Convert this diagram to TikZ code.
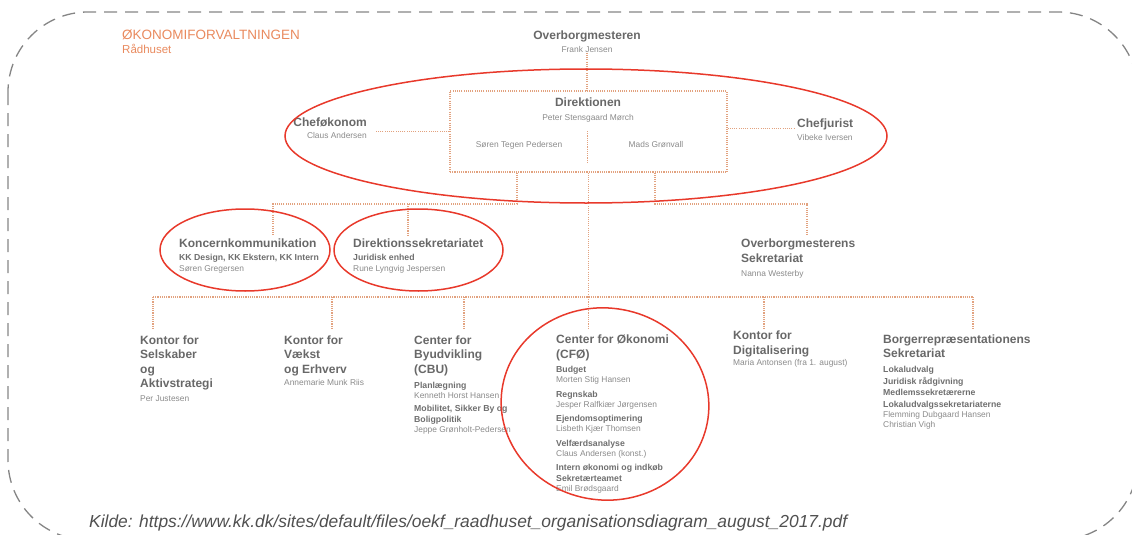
\documentclass[tikz,border=0pt]{standalone}
\usepackage{fontspec}
\setmainfont{Liberation Sans}
\usetikzlibrary{positioning}
\definecolor{Ttl}{HTML}{686868}
\definecolor{Sub}{HTML}{6E6E6E}
\definecolor{Pers}{HTML}{8A8A8A}
\definecolor{Brand}{HTML}{E98A5E}
\definecolor{Conn}{HTML}{E2A27F}
\definecolor{Ring}{HTML}{E8392B}
\definecolor{Frame}{HTML}{858585}
\definecolor{Src}{HTML}{505050}
\newcommand{\unitfont}{\fontsize{8}{0}\selectfont\lineskiplimit=-1000pt\relax}
\newcommand{\orgtitle}{\fontsize{12}{0}\selectfont\bfseries\color{Ttl}}
\newcommand{\orgsub}{\fontsize{8.7}{0}\selectfont\bfseries\color{Sub}}
\newcommand{\orgname}{\fontsize{8.4}{0}\selectfont\mdseries\color{Pers}}

\begin{document}
\begin{tikzpicture}[
  x=1pt, y=-1pt,
  unit/.style={align=left, anchor=north west, inner sep=0pt, font=\unitfont},
  unitc/.style={unit, align=center, anchor=north},
  unitr/.style={unit, align=right, anchor=north east},
  pers/.style={inner sep=0pt, anchor=base, font=\orgname},
  conn/.style={draw=Conn, line width=1.1pt, dash pattern=on 1.1pt off 1.1pt},
  dirbox/.style={conn, minimum width=277pt, minimum height=81pt, inner sep=0pt},
  ring/.style={draw=Ring, line width=1.5pt},
  frame/.style={draw=Frame, line width=1.3pt, dash pattern=on 13pt off 8pt, rounded corners=80pt},
]
\useasboundingbox (0,0) rectangle (1132,535);
\begin{scope}
  \clip (0,0) rectangle (1132,535);
  \draw[frame] (8,12) rectangle (1138,540);
\end{scope}

% heading
\node[anchor=base west, inner sep=0pt, text=Brand, font=\fontsize{13.5}{0}\selectfont] (dept) at (122,39.3) {ØKONOMIFORVALTNINGEN};
\node[anchor=base west, inner sep=0pt, text=Brand, font=\fontsize{11.5}{0}\selectfont] (house) at (122,53.3) {Rådhuset};

% top level
\node[unitc] (ob) at (587,30.3) {\orgtitle Overborgmesteren\\[13.3pt]\orgname Frank Jensen};
\node[dirbox] (dir) at (588.5,131.5) {};
\node[unitc] (dt) at (588,98) {\orgtitle Direktionen\\[13.3pt]\orgname Peter Stensgaard Mørch};
\node[pers] (sp) at (519,147.7) {Søren Tegen Pedersen};
\node[pers] (mg) at (656,147.7) {Mads Grønvall};
\coordinate (dv1) at (587.5,131);
\coordinate (dv2) at (587.5,163);
\node[unitr] (ce) at (367,118) {\orgtitle Cheføkonom\\[11.6pt]\orgname Claus Andersen};
\node[unit] (cj) at (797,119) {\orgtitle Chefjurist\\[12.3pt]\orgname Vibeke Iversen};

% staff units
\node[unit] (kon) at (179,239) {\orgtitle Koncernkommunikation\\[12.3pt]\orgsub KK Design, KK Ekstern, KK Intern\\[11.7pt]\orgname Søren Gregersen};
\node[unit] (dsek) at (353,239) {\orgtitle Direktionssekretariatet\\[12.3pt]\orgsub Juridisk enhed\\[11.7pt]\orgname Rune Lyngvig Jespersen};
\node[unit] (obsek) at (741,239) {\orgtitle Overborgmesterens\\[15pt]\orgtitle Sekretariat\\[14pt]\orgname Nanna Westerby};

% line units
\node[unit] (k1) at (140,335.3) {\orgtitle Kontor for\\[14.3pt]\orgtitle Selskaber\\[14.7pt]\orgtitle og\\[14.3pt]\orgtitle Aktivstrategi\\[13.7pt]\orgname Per Justesen};
\node[unit] (k2) at (284,335.3) {\orgtitle Kontor for\\[14.3pt]\orgtitle Vækst\\[14.7pt]\orgtitle og Erhverv\\[12pt]\orgname Annemarie Munk Riis};
\node[unit] (k3) at (414,335.3) {\orgtitle Center for\\[14.3pt]\orgtitle Byudvikling\\[14.7pt]\orgtitle (CBU)\\[15.3pt]\orgsub Planlægning\\[10pt]\orgname Kenneth Horst Hansen\\[13.4pt]\orgsub Mobilitet, Sikker By og\\[10.6pt]\orgsub Boligpolitik\\[10pt]\orgname Jeppe Grønholt-Pedersen};
\node[unit] (k4) at (556,334.6) {\orgtitle Center for Økonomi\\[15pt]\orgtitle (CFØ)\\[14.4pt]\orgsub Budget\\[9.6pt]\orgname Morten Stig Hansen\\[15pt]\orgsub Regnskab\\[9.7pt]\orgname Jesper Ralfkiær Jørgensen\\[14.7pt]\orgsub Ejendomsoptimering\\[10pt]\orgname Lisbeth Kjær Thomsen\\[14.3pt]\orgsub Velfærdsanalyse\\[10pt]\orgname Claus Andersen (konst.)\\[14.7pt]\orgsub Intern økonomi og indkøb\\[10.6pt]\orgsub Sekretærteamet\\[10pt]\orgname Emil Brødsgaard};
\node[unit] (k5) at (733,330.6) {\orgtitle Kontor for\\[14.7pt]\orgtitle Digitalisering\\[11pt]\orgname Maria Antonsen (fra 1. august)};
\node[unit] (k6) at (883,334.6) {\orgtitle Borgerrepræsentationens\\[14.4pt]\orgtitle Sekretariat\\[15pt]\orgsub Lokaludvalg\\[11.3pt]\orgsub Juridisk rådgivning\\[11pt]\orgsub Medlemssekretærerne\\[12.3pt]\orgsub Lokaludvalgssekretariaterne\\[10.4pt]\orgname Flemming Dubgaard Hansen\\[10pt]\orgname Christian Vigh};

% connectors
\draw[conn] (ob.south) -- (ob.south |- dir.north);
\draw[conn] (dv1) -- (dv2);
\draw[conn] (dir.west) -- ([xshift=9pt]dir.west -| ce.east);
\draw[conn] ([yshift=3pt]dir.east) -- ([xshift=-2pt,yshift=3pt]dir.east -| cj.west);
\coordinate (ja) at (517,204);
\coordinate (jb) at (655,204);
\coordinate (jk) at (273,204);
\coordinate (jd) at (408,204);
\coordinate (jo) at (807,204);
\coordinate (mtop) at (0,235);
\draw[conn] (dir.south -| ja) -- (ja) -- (jk) -- (jk |- mtop);
\draw[conn] (jd) -- (jd |- mtop);
\draw[conn] (dir.south -| jb) -- (jb) -- (jo) -- (jo |- mtop);
\coordinate (d1) at (153,297);
\coordinate (d2) at (332,297);
\coordinate (d3) at (464,297);
\coordinate (d4) at (dir.south |- d1);
\coordinate (d5) at (764,297);
\coordinate (d6) at (973,297);
\coordinate (dbot) at (0,328);
\draw[conn] (d1) -- (d6);
\draw[conn] (dir.south) -- (d4);
\foreach \d in {1,...,6}
  \draw[conn] (d\d) -- (d\d |- dbot);

% red rings
\draw[ring] (586,136) ellipse [x radius=301pt, y radius=67pt];
\draw[ring] (245,250) ellipse [x radius=85pt, y radius=41pt];
\draw[ring] (418.5,250) ellipse [x radius=84.5pt, y radius=41pt];
\draw[ring, rotate around={-8:(605,404)}] (605,404) ellipse [x radius=104pt, y radius=96pt];

% source
\node[anchor=base west, inner sep=0pt, text=Src, font=\fontsize{17.4}{0}\selectfont\itshape] (src) at (89,527) {Kilde: https://www.kk.dk/sites/default/files/oekf\_raadhuset\_organisationsdiagram\_august\_2017.pdf};
\end{tikzpicture}
\end{document}
